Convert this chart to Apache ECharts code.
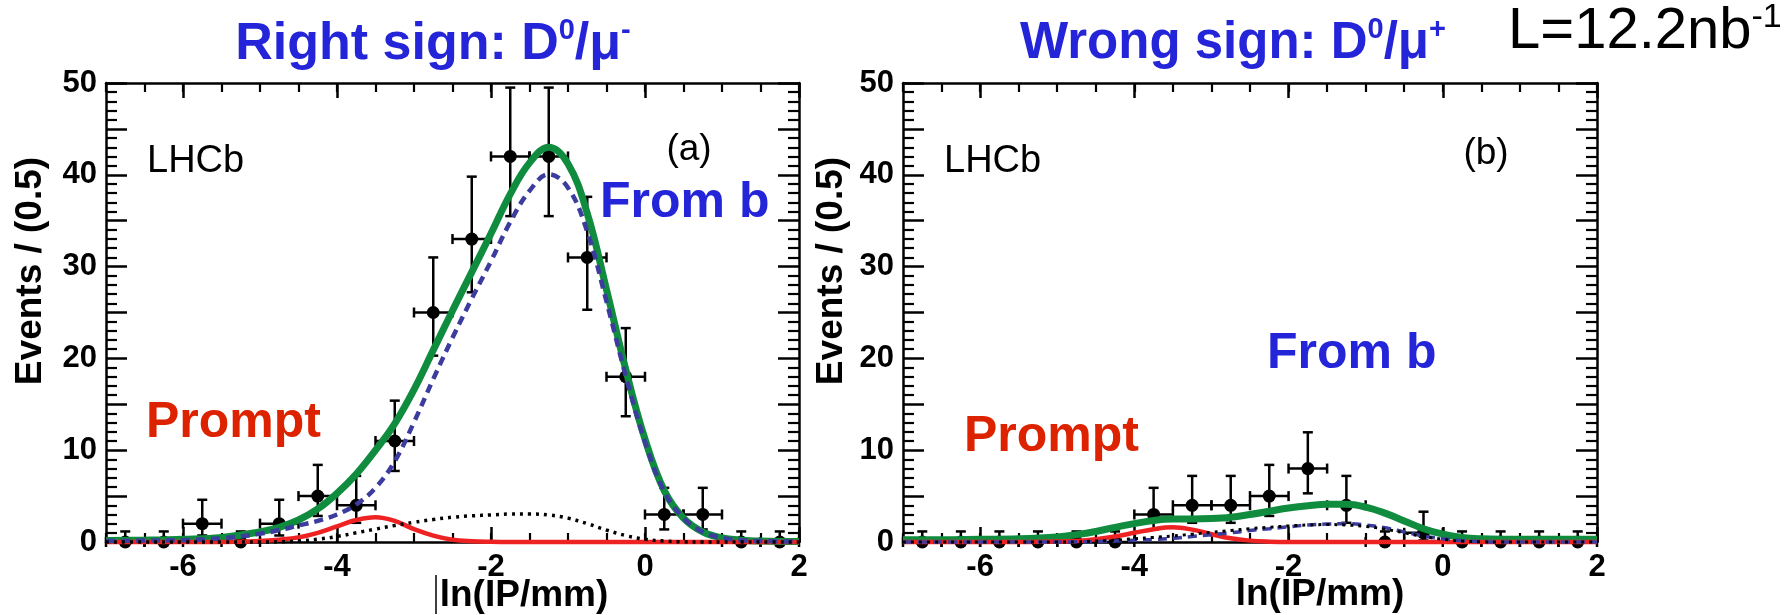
<!DOCTYPE html>
<html>
<head>
<meta charset="utf-8">
<style>
html,body{margin:0;padding:0;background:#ffffff;}
#chart{width:1785px;height:615px;}
</style>
<script src="https://cdn.jsdelivr.net/npm/echarts@6.0.0/dist/echarts.min.js"></script>
</head>
<body>
<div id="chart"></div>
<script>
// ---------------- data ----------------
const binCenters = [-6.75,-6.25,-5.75,-5.25,-4.75,-4.25,-3.75,-3.25,-2.75,-2.25,-1.75,-1.25,-0.75,-0.25,0.25,0.75,1.25,1.75];
const binHalfWidth = 0.25;

// (a) Right sign D0/mu-
const rsCounts = [0,0,2,0,2,5,4,11,25,33,42,42,31,18,3,3,0,0];
const rsLow    = [0,0,0.71,0,0.71,2.84,2.09,7.74,20.3,27.2,35.5,35.5,25.3,13.7,1.37,1.37,0,0];
const rsHigh   = [1.15,1.15,4.6,1.15,4.6,8.4,7.2,15.4,31.0,39.8,49.5,49.5,37.6,23.3,5.9,5.9,1.15,1.15];

// (b) Wrong sign D0/mu+
const wsCounts = [0,0,0,0,0,0,3,4,4,5,8,4,0,1,0,0,0,0];
const wsLow    = [0,0,0,0,0,0,1.37,2.09,2.09,2.84,5.3,2.09,0,0.17,0,0,0,0];
const wsHigh   = [1.15,1.15,1.15,1.15,1.15,1.15,5.9,7.2,7.2,8.4,11.95,7.2,1.15,3.3,1.15,1.15,1.15,1.15];

// fit curves
const curveX = [-7,-6.5,-6,-5.5,-5,-4.75,-4.5,-4.25,-4,-3.75,-3.5,-3.25,-3,-2.75,-2.5,-2.25,-2,-1.75,-1.5,-1.25,-1,-0.75,-0.5,-0.25,0,0.25,0.5,0.75,1,1.25,1.5,2];

const rsTotal  = [0.15,0.2,0.3,0.5,1.1,1.6,2.4,3.6,5.3,7.4,10.0,12.9,16.6,20.9,25.2,29.4,33.6,37.9,41.3,43.0,41.2,35.8,27.5,18.8,11.2,5.6,2.6,1.1,0.45,0.2,0.1,0.05];
const rsFromB  = [0.1,0.15,0.2,0.4,0.9,1.3,1.8,2.3,3.0,4.1,5.9,8.8,13.05,17.75,22.25,26.5,30.6,34.85,38.25,40.05,38.6,33.8,26.2,18.1,10.9,5.5,2.6,1.1,0.45,0.2,0.1,0.05];
const rsPrompt = [0,0,0,0,0.1,0.25,0.5,1.0,1.7,2.4,2.7,2.3,1.4,0.7,0.25,0.08,0.02,0,0,0,0,0,0,0,0,0,0,0,0,0,0,0];
const rsOther  = [0,0,0,0,0,0.02,0.1,0.3,0.6,1.0,1.4,1.8,2.15,2.45,2.7,2.85,2.95,3.05,3.05,2.95,2.6,2.0,1.3,0.7,0.3,0.1,0.02,0,0,0,0,0];

const wsTotal  = [0.25,0.25,0.3,0.35,0.55,0.8,1.15,1.6,2.0,2.35,2.5,2.5,2.55,2.7,3.0,3.35,3.7,3.95,4.1,4.1,3.8,3.15,2.3,1.45,0.85,0.5,0.35,0.3,0.3,0.3,0.3,0.3];
const wsFromB  = [0,0,0,0,0,0.02,0.05,0.1,0.18,0.28,0.4,0.6,0.8,1.0,1.25,1.45,1.65,1.85,1.95,2.0,1.85,1.55,1.1,0.65,0.35,0.15,0.05,0,0,0,0,0];
const wsPrompt = [0,0,0,0,0.05,0.12,0.3,0.6,1.0,1.4,1.6,1.35,0.85,0.4,0.15,0.04,0,0,0,0,0,0,0,0,0,0,0,0,0,0,0,0];
const wsOther  = [0,0,0,0,0,0.02,0.1,0.2,0.35,0.5,0.65,0.85,1.05,1.25,1.45,1.6,1.75,1.85,1.9,1.85,1.7,1.4,1.0,0.6,0.3,0.1,0.03,0,0,0,0,0];

const xTickLabels = [-6,-4,-2,0,2];
const xMin = -7, xMax = 2;
const yMin = 0, yMax = 50;

// ---------------- styles ----------------
const FONT = "'Liberation Sans', Arial, Helvetica, sans-serif";
const BLUE = '#2424d8';
const RED = '#dd2200';
const GREEN = '#0f8c3e';
const DASHBLUE = '#3c3c9e';
const CURVERED = '#ee2222';

const grids = [
  {left:106, top:83, width:693, height:459},
  {left:903, top:83, width:694, height:459}
];

function makeXAxes(g) {
  const line = {show:true, onZero:false, lineStyle:{color:'#000', width:2.5}};
  const minor = {gridIndex:g, type:'value', min:xMin, max:xMax, interval:0.5, splitLine:{show:false},
    axisTick:{show:true, inside:true, length:9, lineStyle:{color:'#000', width:2.2}}};
  const major = {gridIndex:g, type:'value', min:xMin, max:xMax, splitLine:{show:false}, axisLine:{show:false, onZero:false},
    axisTick:{show:true, inside:true, length:15, customValues:xTickLabels, lineStyle:{color:'#000', width:2.5}}};
  return [
    Object.assign({}, minor, {position:'bottom', axisLine:line, axisLabel:{show:false}}),
    Object.assign({}, major, {position:'bottom', axisLabel:{show:true, customValues:xTickLabels, color:'#000',
      fontFamily:FONT, fontWeight:'bold', fontSize:31, margin:10}}),
    Object.assign({}, minor, {position:'top', axisLine:line, axisLabel:{show:false}}),
    Object.assign({}, major, {position:'top', axisLabel:{show:false}})
  ];
}
function makeYAxes(g) {
  const base = {gridIndex:g, type:'value', min:yMin, max:yMax, interval:5, splitLine:{show:false},
    axisLine:{show:true, onZero:false, lineStyle:{color:'#000', width:2.5}},
    axisTick:{show:true, inside:true, length:21, lineStyle:{color:'#000', width:2.5}},
    minorTick:{show:true, splitNumber:5, length:11, lineStyle:{color:'#000', width:2.2}}};
  return [
    Object.assign({}, base, {position:'left', axisLabel:{show:true, color:'#000', fontFamily:FONT, fontWeight:'bold',
      fontSize:31, margin:9, formatter:(v)=> (v % 10 === 0 ? String(v) : '')}}),
    Object.assign({}, base, {position:'right', axisLabel:{show:false}})
  ];
}

function renderErrorBars(params, api) {
  const x = api.value(0), y = api.value(1), lo = api.value(2), hi = api.value(3);
  const c = api.coord([x, y]);
  const l = api.coord([x - binHalfWidth, y]);
  const r = api.coord([x + binHalfWidth, y]);
  const b = api.coord([x, lo]);
  const t = api.coord([x, hi]);
  const st = {stroke:'#000', lineWidth:2.5};
  const cap = 5;
  return {type:'group', children:[
    {type:'line', shape:{x1:c[0], y1:b[1], x2:c[0], y2:t[1]}, style:st},
    {type:'line', shape:{x1:c[0]-cap, y1:t[1], x2:c[0]+cap, y2:t[1]}, style:st},
    {type:'line', shape:{x1:c[0]-cap, y1:b[1], x2:c[0]+cap, y2:b[1]}, style:st},
    {type:'line', shape:{x1:l[0], y1:c[1], x2:r[0], y2:c[1]}, style:st},
    {type:'line', shape:{x1:l[0], y1:c[1]-cap, x2:l[0], y2:c[1]+cap}, style:st},
    {type:'line', shape:{x1:r[0], y1:c[1]-cap, x2:r[0], y2:c[1]+cap}, style:st},
    {type:'circle', shape:{cx:c[0], cy:c[1], r:6.5}, style:{fill:'#000'}}
  ]};
}

function pointsSeries(g, counts, low, high) {
  return {type:'custom', xAxisIndex:4*g, yAxisIndex:2*g, clip:false, z:2, silent:true,
    renderItem:renderErrorBars, encode:{x:0, y:1},
    data: binCenters.map((x,i)=>[x, counts[i], low[i], high[i]])};
}
function curveSeries(g, ys, color, width, type, z) {
  return {type:'line', xAxisIndex:4*g, yAxisIndex:2*g, clip:false, z:z, silent:true,
    showSymbol:false, symbol:'none', smooth:0.4,
    lineStyle:{color:color, width:width, type:type, cap:'butt'},
    data: curveX.map((x,i)=>[x, ys[i]])};
}

const xAxes = [].concat(makeXAxes(0), makeXAxes(1));
const yAxes = [].concat(makeYAxes(0), makeYAxes(1));

const series = [
  pointsSeries(0, rsCounts, rsLow, rsHigh),
  curveSeries(0, rsTotal, GREEN, 7, 'solid', 3),
  curveSeries(0, rsPrompt, CURVERED, 4.5, 'solid', 4),
  curveSeries(0, rsFromB, DASHBLUE, 4.5, [9,6], 5),
  curveSeries(0, rsOther, '#000', 3.5, [3,5], 6),
  pointsSeries(1, wsCounts, wsLow, wsHigh),
  curveSeries(1, wsTotal, GREEN, 7, 'solid', 3),
  curveSeries(1, wsPrompt, CURVERED, 4.5, 'solid', 4),
  curveSeries(1, wsFromB, DASHBLUE, 3.5, [9,6], 5),
  curveSeries(1, wsOther, '#000', 3, [3,5], 6)
];

function txt(x, y, text, size, weight, color, align, extra) {
  return Object.assign({type:'text', x:x, y:y, silent:true, z:100,
    style:{text:text, fill:color, fontFamily:FONT, fontSize:size, fontWeight:weight,
      textAlign:align, align:align, textVerticalAlign:'middle', verticalAlign:'middle'}}, extra || {});
}
function richTitle(x, y, main1, sup1, main2, sup2, size, supSize, color, align, weight) {
  return {type:'text', x:x, y:y, silent:true, z:100,
    style:{text:'{m|' + main1 + '}{s|' + sup1 + '}{m|' + main2 + '}{s|' + sup2 + '}',
      fill:color, fontFamily:FONT, fontSize:size, fontWeight:weight,
      textAlign:align, align:align, textVerticalAlign:'middle', verticalAlign:'middle',
      rich:{
        m:{fontFamily:FONT, fontSize:size, fontWeight:weight, fill:color, lineHeight:size+6},
        s:{fontFamily:FONT, fontSize:supSize, fontWeight:weight, fill:color, verticalAlign:'top', lineHeight:supSize+4}
      }}};
}

const graphic = [
  richTitle(433, 45, 'Right sign: D', '0', '/μ', '-', 52, 29, BLUE, 'center', 'bold'),
  richTitle(1233, 44, 'Wrong sign: D', '0', '/μ', '+', 51, 29, BLUE, 'center', 'bold'),
  {type:'text', x:1508, y:32, silent:true, z:100,
    style:{text:'{m|L=12.2nb}{s|-1}', fill:'#000', fontFamily:FONT, fontSize:58,
      textAlign:'left', align:'left', textVerticalAlign:'middle', verticalAlign:'middle',
      rich:{m:{fontFamily:FONT, fontSize:58, fill:'#000', lineHeight:62},
            s:{fontFamily:FONT, fontSize:34, fill:'#000', verticalAlign:'top', lineHeight:38}}}},
  txt(147, 162, 'LHCb', 38, 'normal', '#000', 'left'),
  txt(689, 150, '(a)', 37, 'normal', '#000', 'center'),
  txt(944, 162, 'LHCb', 38, 'normal', '#000', 'left'),
  txt(1486, 154, '(b)', 37, 'normal', '#000', 'center'),
  txt(600, 203, 'From b', 50, 'bold', BLUE, 'left'),
  txt(1267, 354, 'From b', 50, 'bold', BLUE, 'left'),
  txt(146, 423, 'Prompt', 50, 'bold', RED, 'left'),
  txt(964, 437, 'Prompt', 50, 'bold', RED, 'left'),
  txt(31, 271, 'Events / (0.5)', 37, 'bold', '#000', 'center', {rotation:Math.PI/2}),
  txt(832, 271, 'Events / (0.5)', 37, 'bold', '#000', 'center', {rotation:Math.PI/2}),
  txt(524, 596, 'ln(IP/mm)', 37, 'bold', '#000', 'center'),
  txt(1320, 595, 'ln(IP/mm)', 37, 'bold', '#000', 'center'),
  {type:'line', silent:true, z:100, shape:{x1:436, y1:575, x2:436, y2:614}, style:{stroke:'#000', lineWidth:1.5}}
];

const chart = echarts.init(document.getElementById('chart'), null, {renderer:'canvas', width:1785, height:615});
chart.setOption({
  animation:false,
  backgroundColor:'#ffffff',
  grid: grids.map(g => Object.assign({containLabel:false, outerBoundsMode:'none'}, g)),
  xAxis: xAxes,
  yAxis: yAxes,
  series: series,
  graphic: graphic
});
</script>
</body>
</html>
